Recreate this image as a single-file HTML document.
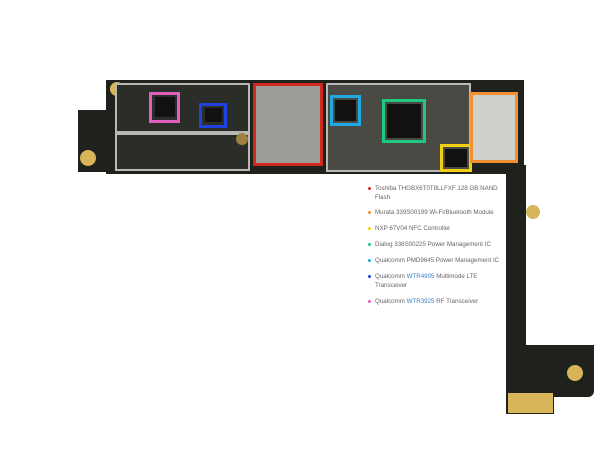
<!DOCTYPE html>
<html><head><style>
body{margin:0;width:610px;height:458px;background:#fff;position:relative;overflow:hidden;font-family:"Liberation Sans",sans-serif}
div{position:absolute;box-sizing:border-box}
.pcb{background:#1e211c}
.sh{background:#8a8c88;border:2px solid #b8b9b4}
.chip{background:#111}
.box{border:3px solid}
.gold{background:#d9b55a;border-radius:50%}
.leg{left:375px;font-size:6.2px;color:#666;line-height:9px;width:132px}
.dot{width:3px;height:3px;border-radius:50%;left:-7px;top:3px}
.l{color:#3a7fc0}
</style></head><body>
<!-- board -->
<div class="pcb" style="left:78px;top:110px;width:40px;height:62px"></div>
<div class="pcb" style="left:106px;top:80px;width:418px;height:94px"></div>
<div class="pcb" style="left:506px;top:165px;width:20px;height:185px"></div>
<div class="pcb" style="left:506px;top:345px;width:88px;height:52px;border-radius:0 0 6px 0"></div>
<div class="pcb" style="left:506px;top:390px;width:48px;height:24px"></div>
<div style="left:508px;top:393px;width:45px;height:20px;background:#d9b55a"></div>
<div class="gold" style="left:110px;top:82px;width:14px;height:14px"></div>
<div class="gold" style="left:80px;top:150px;width:16px;height:16px"></div>
<div class="gold" style="left:526px;top:205px;width:14px;height:14px"></div>
<div class="gold" style="left:567px;top:365px;width:16px;height:16px"></div>
<!-- shields -->
<div class="sh" style="left:115px;top:83px;width:135px;height:50px;background:#2a2d28"></div>
<div class="sh" style="left:115px;top:133px;width:135px;height:38px;background:#2a2d28"></div>
<div class="sh" style="left:326px;top:83px;width:145px;height:89px;background:#4a4a44"></div>
<div style="left:255px;top:85px;width:66px;height:79px;background:#9b9b98"></div>
<div style="left:472px;top:94px;width:44px;height:67px;background:#cfcfcc"></div>
<div class="gold" style="left:236px;top:133px;width:12px;height:12px;background:#a08040"></div>
<div class="chip" style="left:155px;top:97px;width:20px;height:20px"></div>
<div class="chip" style="left:205px;top:108px;width:17px;height:14px"></div>
<div class="chip" style="left:335px;top:100px;width:21px;height:21px"></div>
<div class="chip" style="left:387px;top:104px;width:34px;height:34px"></div>
<div class="chip" style="left:445px;top:149px;width:22px;height:18px"></div>
<!-- boxes -->
<div class="box" style="left:149px;top:92px;width:31px;height:31px;border-color:#e060c0"></div>
<div class="box" style="left:199px;top:103px;width:28px;height:25px;border-color:#2040e0"></div>
<div class="box" style="left:253px;top:83px;width:70px;height:83px;border-color:#d02a20"></div>
<div class="box" style="left:330px;top:95px;width:31px;height:31px;border-color:#20a8e0"></div>
<div class="box" style="left:382px;top:99px;width:44px;height:44px;border-color:#20c880"></div>
<div class="box" style="left:440px;top:144px;width:32px;height:28px;border-color:#f0d010"></div>
<div class="box" style="left:470px;top:92px;width:48px;height:71px;border-color:#f09030"></div>
<!-- legend -->
<div class="leg" style="top:184px"><div class="dot" style="background:#d02a20"></div>Toshiba THGBX6T0T8LLFXF 128 GB NAND Flash</div>
<div class="leg" style="top:208px"><div class="dot" style="background:#f09030"></div>Murata 339S00199 Wi-Fi/Bluetooth Module</div>
<div class="leg" style="top:224px"><div class="dot" style="background:#f0d010"></div>NXP 67V04 NFC Controller</div>
<div class="leg" style="top:240px"><div class="dot" style="background:#20c880"></div>Dialog 338S00225 Power Management IC</div>
<div class="leg" style="top:256px"><div class="dot" style="background:#20a8e0"></div>Qualcomm PMD9645 Power Management IC</div>
<div class="leg" style="top:272px"><div class="dot" style="background:#2040e0"></div>Qualcomm <span class="l">WTR4905</span> Multimode LTE Transceiver</div>
<div class="leg" style="top:297px"><div class="dot" style="background:#e060c0"></div>Qualcomm <span class="l">WTR3925</span> RF Transceiver</div>
</body></html>
